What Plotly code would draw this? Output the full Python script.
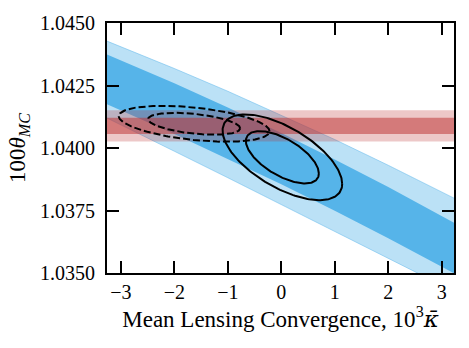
import numpy as np
import plotly.graph_objects as go

# band edges (theta_MC vs kappa)
band_x = [-3.3, -2, -1, 0, 1, 2, 3.3]
outer_hi = [1.04431, 1.04318, 1.04227, 1.04132, 1.04034, 1.03931, 1.03792]
inner_hi = [1.04378, 1.04259, 1.04162, 1.04060, 1.03954, 1.03844, 1.03693]
inner_lo = [1.04179, 1.04056, 1.03957, 1.03855, 1.03749, 1.03639, 1.03491]
outer_lo = [1.04124, 1.03987, 1.03881, 1.03774, 1.03668, 1.03559, 1.03419]

# horizontal theta band
red_x = [-3.3, 3.3]
red_outer = [1.04026, 1.04151]
red_inner = [1.04056, 1.04121]

# 2D contours: mean, sigma, correlation
solid_mean = [0.02, 1.03963]
solid_sig = [0.45, 0.00069]
solid_rho = -0.62
dash_mean = [-1.63, 1.04097]
dash_sig = [0.567, 0.000289]
dash_rho = -0.42
levels = [2.30, 6.18]  # delta chi^2 for 68% / 95%

x_ticks = [-3, -2, -1, 0, 1, 2, 3]
y_ticks = [1.0350, 1.0375, 1.0400, 1.0425, 1.0450]

BLUE = "rgb(86,180,233)"
LIGHT_BLUE = "rgba(86,180,233,0.4)"
FONT = "Liberation Serif, serif"


def ellipse(mean, sig, rho, k):
    cov = np.array([[sig[0] ** 2, rho * sig[0] * sig[1]],
                    [rho * sig[0] * sig[1], sig[1] ** 2]])
    L = np.linalg.cholesky(cov)
    t = np.linspace(0, 2 * np.pi, 200)
    pts = L @ np.vstack([np.cos(t), np.sin(t)]) * np.sqrt(k)
    return pts[0] + mean[0], pts[1] + mean[1]


def band(lo, hi, x):
    return list(x) + list(x)[::-1], list(hi) + list(lo)[::-1]


fig = go.Figure()

bx, by = band(outer_lo, outer_hi, band_x)
fig.add_trace(go.Scatter(x=bx, y=by, fill="toself", fillcolor=LIGHT_BLUE,
                         mode="lines", line=dict(color="rgba(86,180,233,0.6)", width=0.8),
                         hoverinfo="skip", showlegend=False))
bx, by = band(inner_lo, inner_hi, band_x)
fig.add_trace(go.Scatter(x=bx, y=by, fill="toself", fillcolor=BLUE,
                         mode="lines", line=dict(width=0),
                         hoverinfo="skip", showlegend=False))

rx, ry = band([red_outer[0]] * 2, [red_outer[1]] * 2, red_x)
fig.add_trace(go.Scatter(x=rx, y=ry, fill="toself", fillcolor="rgba(190,50,50,0.27)",
                         mode="lines", line=dict(width=0), hoverinfo="skip", showlegend=False))
rx, ry = band([red_inner[0]] * 2, [red_inner[1]] * 2, red_x)
fig.add_trace(go.Scatter(x=rx, y=ry, fill="toself", fillcolor="rgba(190,50,50,0.52)",
                         mode="lines", line=dict(width=0), hoverinfo="skip", showlegend=False))

for k in levels:
    ex, ey = ellipse(dash_mean, dash_sig, dash_rho, k)
    fig.add_trace(go.Scatter(x=ex, y=ey, mode="lines",
                             line=dict(color="black", width=2, dash="7px,3px"),
                             hoverinfo="skip", showlegend=False))
for k in levels:
    ex, ey = ellipse(solid_mean, solid_sig, solid_rho, k)
    fig.add_trace(go.Scatter(x=ex, y=ey, mode="lines",
                             line=dict(color="black", width=2),
                             hoverinfo="skip", showlegend=False))

axis_common = dict(showline=True, linecolor="black", linewidth=2.2, mirror="ticks",
                   ticks="inside", ticklen=12, tickwidth=1.8, tickcolor="black",
                   showgrid=False, zeroline=False,
                   tickfont=dict(family=FONT, size=20, color="black"))

fig.update_xaxes(range=[-3.26, 3.23], tickvals=x_ticks, **axis_common,
                 title=dict(text="Mean Lensing Convergence, 10<sup>3</sup>"
                                 "<span style='font-family:DejaVu Serif'><i>κ̄</i></span>",
                            font=dict(family=FONT, size=23, color="black"), standoff=0))
fig.update_yaxes(range=[1.035, 1.045], tickvals=y_ticks, tickformat=".4f", **axis_common,
                 ticklabelstandoff=6,
                 title=dict(text="100<i>θ</i><sub><i>MC</i></sub>",
                            font=dict(family=FONT, size=23, color="black"), standoff=8))

fig.update_layout(width=469, height=348, margin=dict(l=107, r=15, t=20, b=75),
                  font=dict(family=FONT, color="black"),
                  plot_bgcolor="white", paper_bgcolor="white")

fig.write_html("out.html", config={"displayModeBar": False},
               post_script="document.body.style.margin='0';")
